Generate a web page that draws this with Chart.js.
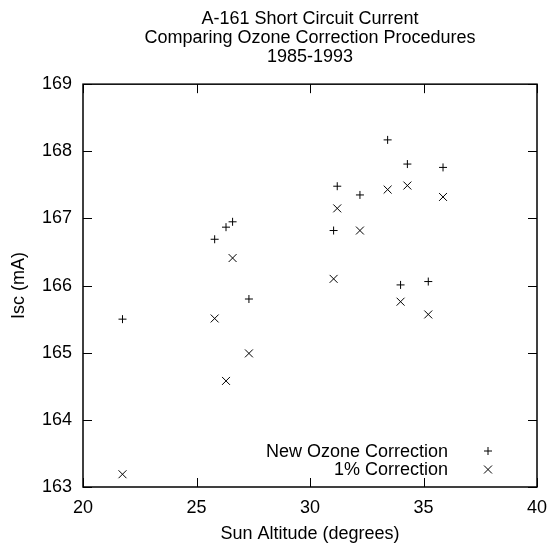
<!DOCTYPE html>
<html>
<head>
<meta charset="utf-8">
<script src="https://cdn.jsdelivr.net/npm/chart.js@4.4.1/dist/chart.umd.min.js"></script>
<style>
  body { margin: 0; background: #fff; }
</style>
</head>
<body>
<canvas id="chart" width="549" height="543"></canvas>
<script>
const sunAltitude = [21.74, 25.80, 26.30, 26.59, 27.31, 31.04, 31.20, 32.20, 33.42, 33.99, 34.29, 35.21, 35.86];
const newOzone    = [165.50, 166.69, 166.87, 166.95, 165.80, 166.82, 167.48, 167.35, 168.17, 166.01, 167.81, 166.06, 167.76];
const onePercent  = [163.19, 165.51, 164.58, 166.41, 164.99, 166.10, 167.15, 166.82, 167.43, 165.76, 167.49, 165.57, 167.32];
const seriesNames = ['New Ozone Correction', '1% Correction'];
const xTicks = [20, 25, 30, 35, 40];
const yTicks = [163, 164, 165, 166, 167, 168, 169];
const titleLines = ['A-161 Short Circuit Current', 'Comparing Ozone Correction Procedures', '1985-1993'];

const family = "'Liberation Sans', Arial, Helvetica, sans-serif";

function toPoints(ys) {
  return sunAltitude.map((x, i) => ({ x: x, y: ys[i] }));
}

function marker(ctx, style, x, y) {
  ctx.beginPath();
  if (style === 'cross') {
    ctx.moveTo(x - 4, y); ctx.lineTo(x + 4, y);
    ctx.moveTo(x, y - 4); ctx.lineTo(x, y + 4);
  } else {
    ctx.moveTo(x - 4, y - 4); ctx.lineTo(x + 4, y + 4);
    ctx.moveTo(x - 4, y + 4); ctx.lineTo(x + 4, y - 4);
  }
  ctx.stroke();
}

// frame with inward ticks on all four sides, plus the key in the lower right
const frame = {
  id: 'frame',
  afterDraw(chart) {
    const { ctx, chartArea: a, scales } = chart;
    ctx.save();
    ctx.strokeStyle = '#000';
    ctx.lineWidth = 1;
    ctx.beginPath();
    xTicks.forEach(v => {
      const px = Math.round(scales.x.getPixelForValue(v)) + 0.5;
      ctx.moveTo(px, a.bottom); ctx.lineTo(px, a.bottom - 9);
      ctx.moveTo(px, a.top); ctx.lineTo(px, a.top + 9);
    });
    yTicks.forEach(v => {
      const py = Math.round(scales.y.getPixelForValue(v)) + 0.5;
      ctx.moveTo(a.left, py); ctx.lineTo(a.left + 9, py);
      ctx.moveTo(a.right, py); ctx.lineTo(a.right - 9, py);
    });
    ctx.stroke();
    ctx.lineWidth = 1.5;
    ctx.strokeRect(a.left, a.top, a.right - a.left, a.bottom - a.top);

    ctx.fillStyle = '#000';
    ctx.font = '18px ' + family;
    ctx.textAlign = 'right';
    ctx.textBaseline = 'middle';
    ctx.lineWidth = 1;
    chart.data.datasets.forEach((ds, i) => {
      const y = a.bottom - 36 + i * 18.5;
      ctx.fillText(ds.label, a.right - 89, y + 1);
      marker(ctx, ds.pointStyle, a.right - 49, y);
    });
    ctx.restore();
  }
};

new Chart(document.getElementById('chart'), {
  type: 'scatter',
  data: {
    datasets: [
      {
        label: seriesNames[0],
        data: toPoints(newOzone),
        pointStyle: 'cross',
        pointRadius: 4,
        borderColor: '#000',
        borderWidth: 1
      },
      {
        label: seriesNames[1],
        data: toPoints(onePercent),
        pointStyle: 'crossRot',
        pointRadius: 5.6,
        borderColor: '#000',
        borderWidth: 1
      }
    ]
  },
  options: {
    responsive: false,
    animation: false,
    layout: { padding: { left: 0, right: 12, top: 0, bottom: 0 } },
    plugins: {
      legend: { display: false },
      tooltip: { enabled: false },
      title: {
        display: true,
        fullSize: false,
        text: titleLines,
        color: '#000',
        font: { family: family, size: 18, weight: 'normal', lineHeight: 1.04 },
        padding: { top: 10, bottom: 18 }
      }
    },
    scales: {
      x: {
        type: 'linear',
        min: xTicks[0],
        max: xTicks[xTicks.length - 1],
        afterBuildTicks: s => { s.ticks = xTicks.map(v => ({ value: v })); },
        afterFit: s => { s.height = 56; s.paddingLeft = 0; s.paddingRight = 0; },
        grid: { display: false, drawTicks: false },
        border: { display: false },
        ticks: { color: '#000', padding: 10.5, maxRotation: 0, font: { family: family, size: 18 } },
        title: {
          display: true,
          text: 'Sun Altitude (degrees)',
          color: '#000',
          padding: { top: 0, bottom: 0 },
          font: { family: family, size: 18, lineHeight: 1.0 }
        }
      },
      y: {
        type: 'linear',
        min: yTicks[0],
        max: yTicks[yTicks.length - 1],
        afterBuildTicks: s => { s.ticks = yTicks.map(v => ({ value: v })); },
        afterFit: s => { s.width = 83; s.paddingTop = 0; s.paddingBottom = 0; },
        grid: { display: false, drawTicks: false },
        border: { display: false },
        ticks: { color: '#000', padding: 11, font: { family: family, size: 18 } },
        title: {
          display: true,
          text: 'Isc (mA)',
          color: '#000',
          padding: { top: 8, bottom: 0 },
          font: { family: family, size: 18 }
        }
      }
    }
  },
  plugins: [frame]
});
</script>
</body>
</html>
